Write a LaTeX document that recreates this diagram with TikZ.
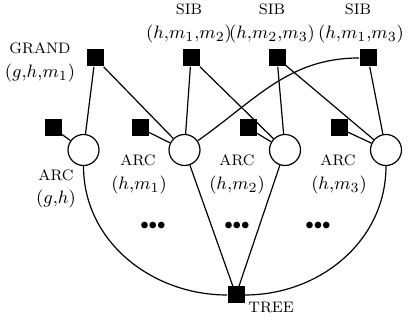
\documentclass[tikz,border=0pt]{standalone}
\begin{document}
\begin{tikzpicture}[x=0.5pt,y=-0.5pt,
  var/.style={circle,draw,line width=0.6pt,minimum size=15.5pt,inner sep=0pt},
  fac/.style={rectangle,fill=black,minimum size=8.5pt,inner sep=0pt},
  capl/.style={font=\fontsize{7.6}{9}\selectfont,anchor=base,inner sep=0pt},
  argl/.style={font=\fontsize{9.3}{11}\selectfont,anchor=base,inner sep=0pt},
  dotl/.style={font=\fontsize{8.5}{9}\selectfont,inner sep=0pt},
  edge/.style={line width=0.6pt}]
\useasboundingbox (0,0) rectangle (412,324);
% variables
\node[var] (a1) at (83.5,150) {};
\node[var] (a2) at (184.5,150) {};
\node[var] (a3) at (285,150) {};
\node[var] (a4) at (386,150) {};
% unary factors
\node[fac] (u1) at (53,128) {};
\node[fac] (u2) at (140,128) {};
\node[fac] (u3) at (248,128) {};
\node[fac] (u4) at (339,128) {};
% higher-order factors
\node[fac] (g) at (95,58) {};
\node[fac] (s1) at (191,58) {};
\node[fac] (s2) at (277,58) {};
\node[fac] (s3) at (368,58) {};
\node[fac] (t) at (236,295) {};
% edges
\draw[edge] (u1) -- (a1);
\draw[edge] (u2) -- (a2);
\draw[edge] (u3) -- (a3);
\draw[edge] (u4) -- (a4);
\draw[edge] (g) -- (a1);
\draw[edge] (g) -- (a2);
\draw[edge] (s1) -- (a2);
\draw[edge] (s1) -- (a3);
\draw[edge] (s2) -- (a3);
\draw[edge] (s2) -- (a4);
\draw[edge] (s3) -- (a4);
\draw[edge] (a2) to[out=35,in=180] (s3);
\draw[edge] (a2) -- (t);
\draw[edge] (a3) -- (t);
\draw[edge] (a1) to[out=-90,in=180] (t);
\draw[edge] (a4) to[out=-90,in=0] (t);
% labels
\node[capl] (lgrand) at (40,54) {GRAND};
\node[argl] (agrand) at (40,78) {$(g{,}h{,}m_1)$};
\node[capl] (ls1) at (189,15) {SIB};
\node[argl] (as1) at (189,39) {$(h{,}m_1{,}m_2)$};
\node[capl] (ls2) at (272,15) {SIB};
\node[argl] (as2) at (272,39) {$(h{,}m_2{,}m_3)$};
\node[capl] (ls3) at (358,15) {SIB};
\node[argl] (as3) at (361,39) {$(h{,}m_1{,}m_3)$};
\node[capl] (la1) at (56,181) {ARC};
\node[argl] (aa1) at (56,204) {$(g{,}h)$};
\node[capl] (la2) at (138,166) {ARC};
\node[argl] (aa2) at (139,190) {$(h{,}m_1)$};
\node[capl] (la3) at (237,166) {ARC};
\node[argl] (aa3) at (237,190) {$(h{,}m_2)$};
\node[capl] (la4) at (338,166) {ARC};
\node[argl] (aa4) at (339,190) {$(h{,}m_3)$};
\node[capl,anchor=base west] (lt) at (248,313) {TREE};
\node[dotl] (d1) at (153,226) {${\bullet}{\bullet}{\bullet}$};
\node[dotl] (d2) at (237,226) {${\bullet}{\bullet}{\bullet}$};
\node[dotl] (d3) at (318,226) {${\bullet}{\bullet}{\bullet}$};
\end{tikzpicture}
\end{document}
